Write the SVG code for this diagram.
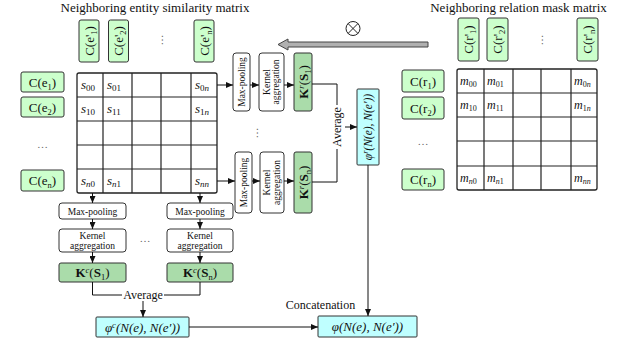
<svg xmlns="http://www.w3.org/2000/svg" width="626" height="347" viewBox="0 0 626 347">
<style>
text{font-family:"Liberation Serif","DejaVu Serif",serif;fill:#111}
.lg{fill:#ccffcc;stroke:#333;stroke-width:1}
.dg{fill:#aadcaa;stroke:#333;stroke-width:1}
.cy{fill:#bfffff;stroke:#333;stroke-width:1}
.wb{fill:#fff;stroke:#333;stroke-width:1}
.mx{fill:#fff;stroke:#222;stroke-width:1.3}
.ml{stroke:#222;stroke-width:1.2}
.c{stroke:#111;stroke-width:1;fill:none}
.a{marker-end:url(#ah)}
.f12{font-size:12px}
.f13{font-size:13px}
.f9{font-size:9.5px}
.it{font-style:italic}
.dots{font-size:11px;fill:#666}
</style>
<defs>
<marker id="ah" markerWidth="7" markerHeight="6" refX="7" refY="3" orient="auto" markerUnits="userSpaceOnUse">
<path d="M0,0 L7,3 L0,6 z" fill="#111"/>
</marker>
</defs>

<text x="155" y="11.5" font-size="13" text-anchor="middle">Neighboring entity similarity matrix</text>
<text x="518.5" y="11.5" font-size="13" text-anchor="middle">Neighboring relation mask matrix</text>

<!-- entity column headers -->
<g id="ecol1"><rect class="lg" x="79" y="20" width="20" height="42" rx="2"/><text class="f13" transform="translate(93.5,41) rotate(-90)" text-anchor="middle">C(e'<tspan font-size="8.5" dy="3">1</tspan><tspan dy="-3">)</tspan></text></g>
<g id="ecol2"><rect class="lg" x="108.5" y="20" width="20" height="42" rx="2"/><text class="f13" transform="translate(123,41) rotate(-90)" text-anchor="middle">C(e'<tspan font-size="8.5" dy="3">2</tspan><tspan dy="-3">)</tspan></text></g>
<g id="ecoln"><rect class="lg" x="194" y="20" width="20" height="42" rx="2"/><text class="f13" transform="translate(208.5,41) rotate(-90)" text-anchor="middle">C(e'<tspan font-size="8.5" dy="3">n</tspan><tspan dy="-3">)</tspan></text></g>
<text class="dots" transform="translate(160,40) rotate(-90)" text-anchor="middle" dy="3">…</text>

<!-- entity rows -->
<g id="erow1"><rect class="lg" x="21" y="72" width="43" height="20" rx="2"/><text class="f13" x="42.5" y="86.5" text-anchor="middle">C(e<tspan font-size="8.5" dy="3">1</tspan><tspan dy="-3">)</tspan></text></g>
<g id="erow2"><rect class="lg" x="21" y="97" width="43" height="20" rx="2"/><text class="f13" x="42.5" y="111.5" text-anchor="middle">C(e<tspan font-size="8.5" dy="3">2</tspan><tspan dy="-3">)</tspan></text></g>
<g id="erown"><rect class="lg" x="21" y="170" width="43" height="21" rx="2"/><text class="f13" x="42.5" y="185" text-anchor="middle">C(e<tspan font-size="8.5" dy="3">n</tspan><tspan dy="-3">)</tspan></text></g>
<text class="dots" x="42.5" y="148" text-anchor="middle">…</text>

<!-- entity matrix -->
<g id="ematrix">
<rect class="mx" x="77" y="73" width="140" height="120" rx="2"/>
<path class="ml" d="M103,73V193M132,73V193M161,73V193M191,73V193M77,97H217M77,121H217M77,145H217M77,169H217"/>
<g font-size="13">
<text x="81" y="89"><tspan class="it">s</tspan><tspan font-size="9" dy="2">00</tspan></text>
<text x="107" y="89"><tspan class="it">s</tspan><tspan font-size="9" dy="2">01</tspan></text>
<text x="195" y="89"><tspan class="it">s</tspan><tspan font-size="9" dy="2">0<tspan class="it">n</tspan></tspan></text>
<text x="81" y="113"><tspan class="it">s</tspan><tspan font-size="9" dy="2">10</tspan></text>
<text x="107" y="113"><tspan class="it">s</tspan><tspan font-size="9" dy="2">11</tspan></text>
<text x="195" y="113"><tspan class="it">s</tspan><tspan font-size="9" dy="2">1<tspan class="it">n</tspan></tspan></text>
<text x="81" y="185"><tspan class="it">s</tspan><tspan font-size="9" dy="2"><tspan class="it">n</tspan>0</tspan></text>
<text x="107" y="185"><tspan class="it">s</tspan><tspan font-size="9" dy="2"><tspan class="it">n</tspan>1</tspan></text>
<text x="195" y="185"><tspan class="it">s</tspan><tspan font-size="9" dy="2" class="it">nn</tspan></text>
</g>
</g>

<!-- relation column headers -->
<g id="rcol1"><rect class="lg" x="458" y="18" width="21" height="43" rx="2"/><text class="f13" transform="translate(473,39.5) rotate(-90)" text-anchor="middle">C(r'<tspan font-size="8.5" dy="3">1</tspan><tspan dy="-3">)</tspan></text></g>
<g id="rcol2"><rect class="lg" x="487" y="18" width="21" height="43" rx="2"/><text class="f13" transform="translate(502,39.5) rotate(-90)" text-anchor="middle">C(r'<tspan font-size="8.5" dy="3">2</tspan><tspan dy="-3">)</tspan></text></g>
<g id="rcoln"><rect class="lg" x="577" y="18" width="21" height="43" rx="2"/><text class="f13" transform="translate(592,39.5) rotate(-90)" text-anchor="middle">C(r'<tspan font-size="8.5" dy="3">n</tspan><tspan dy="-3">)</tspan></text></g>
<text class="dots" transform="translate(540,40) rotate(-90)" text-anchor="middle" dy="3">…</text>

<!-- relation rows -->
<g id="rrow1"><rect class="lg" x="402" y="70" width="42" height="22" rx="2"/><text class="f13" x="423" y="85.5" text-anchor="middle">C(r<tspan font-size="8.5" dy="3">1</tspan><tspan dy="-3">)</tspan></text></g>
<g id="rrow2"><rect class="lg" x="402" y="97" width="42" height="22" rx="2"/><text class="f13" x="423" y="112.5" text-anchor="middle">C(r<tspan font-size="8.5" dy="3">2</tspan><tspan dy="-3">)</tspan></text></g>
<g id="rrown"><rect class="lg" x="402" y="169" width="42" height="21" rx="2"/><text class="f13" x="423" y="184" text-anchor="middle">C(r<tspan font-size="8.5" dy="3">n</tspan><tspan dy="-3">)</tspan></text></g>
<text class="dots" x="423" y="145" text-anchor="middle">…</text>

<!-- relation matrix -->
<g id="rmatrix">
<rect class="mx" x="457" y="69" width="140" height="121" rx="2"/>
<path class="ml" d="M484,69V190M513,69V190M541,69V190M571,69V190M457,93H597M457,117H597M457,141H597M457,166H597"/>
<g font-size="12">
<text x="460" y="85"><tspan class="it">m</tspan><tspan font-size="8" dy="2">00</tspan></text>
<text x="487" y="85"><tspan class="it">m</tspan><tspan font-size="8" dy="2">01</tspan></text>
<text x="574" y="85"><tspan class="it">m</tspan><tspan font-size="8" dy="2">0<tspan class="it">n</tspan></tspan></text>
<text x="460" y="109"><tspan class="it">m</tspan><tspan font-size="8" dy="2">10</tspan></text>
<text x="487" y="109"><tspan class="it">m</tspan><tspan font-size="8" dy="2">11</tspan></text>
<text x="574" y="109"><tspan class="it">m</tspan><tspan font-size="8" dy="2">1<tspan class="it">n</tspan></tspan></text>
<text x="460" y="182"><tspan class="it">m</tspan><tspan font-size="8" dy="2"><tspan class="it">n</tspan>0</tspan></text>
<text x="487" y="182"><tspan class="it">m</tspan><tspan font-size="8" dy="2"><tspan class="it">n</tspan>1</tspan></text>
<text x="574" y="182"><tspan class="it">m</tspan><tspan font-size="8" dy="2" class="it">nn</tspan></text>
</g>
</g>

<!-- mask arrow and otimes -->
<g id="maskarrow"><polygon points="428,42 288,42 288,39 278,44.5 288,50 288,47 428,47" fill="#b0b0b0" stroke="#444" stroke-width="1"/></g>
<g id="otimes"><circle cx="353" cy="28.5" r="7" fill="none" stroke="#222" stroke-width="1"/><path d="M348,23.5L358,33.5M358,23.5L348,33.5" stroke="#222" stroke-width="1"/></g>

<!-- row-wise upper -->
<g id="mp1"><rect class="wb" x="233" y="53" width="17" height="58" rx="3"/><text class="f9" transform="translate(244.8,82) rotate(-90)" text-anchor="middle">Max-pooling</text></g>
<g id="ka1"><rect class="wb" x="259" y="53" width="25" height="58" rx="3"/><text class="f9" transform="translate(271.5,82) rotate(-90)" text-anchor="middle"><tspan x="0" y="-2">Kernel</tspan><tspan x="0" y="7.5">aggregation</tspan></text></g>
<g id="kr1"><rect class="dg" x="294" y="53" width="18" height="58" rx="2"/><text class="f13" transform="translate(307.5,82) rotate(-90)" text-anchor="middle"><tspan font-weight="bold">K</tspan><tspan font-size="8.5" dy="-4" class="it">r</tspan><tspan dy="4">(</tspan><tspan font-weight="bold">S</tspan><tspan font-size="8.5" dy="3">1</tspan><tspan dy="-3">)</tspan></text></g>
<text class="dots" transform="translate(255,133) rotate(-90)" text-anchor="middle" dy="3">…</text>

<!-- row-wise lower -->
<g id="mpn"><rect class="wb" x="235" y="152" width="17" height="61" rx="3"/><text class="f9" transform="translate(246.8,182.5) rotate(-90)" text-anchor="middle">Max-pooling</text></g>
<g id="kan"><rect class="wb" x="260" y="152" width="24" height="61" rx="3"/><text class="f9" transform="translate(272,182.5) rotate(-90)" text-anchor="middle"><tspan x="0" y="-2">Kernel</tspan><tspan x="0" y="7.5">aggregation</tspan></text></g>
<g id="krn"><rect class="dg" x="294" y="152" width="18" height="61" rx="2"/><text class="f13" transform="translate(307.5,182.5) rotate(-90)" text-anchor="middle"><tspan font-weight="bold">K</tspan><tspan font-size="8.5" dy="-4" class="it">r</tspan><tspan dy="4">(</tspan><tspan font-weight="bold">S</tspan><tspan font-size="8.5" dy="3">n</tspan><tspan dy="-3">)</tspan></text></g>

<!-- phi^r -->
<g id="phir"><rect class="cy" x="357" y="89" width="22" height="76" rx="1"/><text font-size="11.5" class="it" transform="translate(372,127) rotate(-90)" text-anchor="middle">φ<tspan font-size="8" dy="-4">r</tspan><tspan dy="4">(N(e), N(e′))</tspan></text></g>
<text class="f12" transform="translate(341,127) rotate(-90)" text-anchor="middle">Average</text>

<!-- column-wise -->
<g id="mpc1"><rect class="wb" x="59" y="203" width="67" height="16" rx="3"/><text class="f9" x="92.5" y="214.5" text-anchor="middle">Max-pooling</text></g>
<g id="mpcn"><rect class="wb" x="167" y="203" width="66" height="16" rx="3"/><text class="f9" x="200" y="214.5" text-anchor="middle">Max-pooling</text></g>
<g id="kac1"><rect class="wb" x="59" y="229" width="67" height="23" rx="3"/><text class="f9" x="92.5" y="238.5" text-anchor="middle">Kernel</text><text class="f9" x="92.5" y="249" text-anchor="middle">aggregation</text></g>
<g id="kacn"><rect class="wb" x="167" y="229" width="66" height="23" rx="3"/><text class="f9" x="200" y="238.5" text-anchor="middle">Kernel</text><text class="f9" x="200" y="249" text-anchor="middle">aggregation</text></g>
<text class="dots" x="145" y="242" text-anchor="middle">…</text>
<g id="kc1"><rect class="dg" x="59" y="263" width="67" height="19" rx="2"/><text class="f13" x="92.5" y="277" text-anchor="middle"><tspan font-weight="bold">K</tspan><tspan font-size="8.5" dy="-4" class="it">c</tspan><tspan dy="4">(</tspan><tspan font-weight="bold">S</tspan><tspan font-size="8.5" dy="3">1</tspan><tspan dy="-3">)</tspan></text></g>
<g id="kcn"><rect class="dg" x="167" y="263" width="66" height="19" rx="2"/><text class="f13" x="200" y="277" text-anchor="middle"><tspan font-weight="bold">K</tspan><tspan font-size="8.5" dy="-4" class="it">c</tspan><tspan dy="4">(</tspan><tspan font-weight="bold">S</tspan><tspan font-size="8.5" dy="3">n</tspan><tspan dy="-3">)</tspan></text></g>
<text class="f12" x="143" y="299" text-anchor="middle">Average</text>

<g id="phic"><rect class="cy" x="96" y="317" width="93" height="20" rx="1"/><text class="f13 it" x="142.5" y="331.5" text-anchor="middle">φ<tspan font-size="8.5" dy="-4">c</tspan><tspan dy="4">(N(e), N(e′))</tspan></text></g>
<g id="phi"><rect class="cy" x="318" y="316" width="99" height="21" rx="1"/><text class="f13 it" x="367.5" y="331" text-anchor="middle">φ(N(e), N(e′))</text></g>
<text class="f12" x="320.5" y="309" text-anchor="middle">Concatenation</text>

<g id="connectors">
<path class="c a" d="M217,85H233"/>
<path class="c a" d="M250,85H259"/>
<path class="c a" d="M284,85H294"/>
<path class="c a" d="M217,181H235"/>
<path class="c a" d="M252,181H260"/>
<path class="c a" d="M284,181H294"/>
<path class="c" d="M312,84H337V105"/>
<path class="c" d="M337,149V182H312"/>
<path class="c a" d="M345,127H357"/>
<path class="c a" d="M368,165V316"/>
<path class="c a" d="M92.5,193V203"/>
<path class="c a" d="M92.5,219V229"/>
<path class="c a" d="M92.5,252V263"/>
<path class="c a" d="M200,193V203"/>
<path class="c a" d="M200,219V229"/>
<path class="c a" d="M200,252V263"/>
<path class="c" d="M92.5,282V295H122"/>
<path class="c" d="M164,295H200V282"/>
<path class="c a" d="M143,301V317"/>
<path class="c a" d="M189,327H318"/>
</g>
</svg>
